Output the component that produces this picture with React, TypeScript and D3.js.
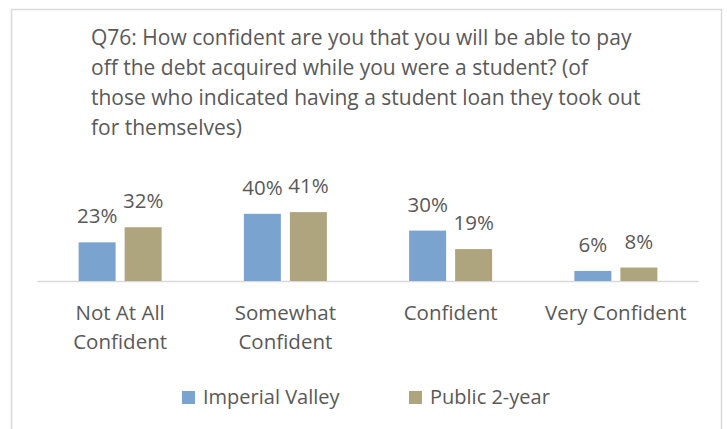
import React from "react";
import * as d3 from "d3";

const categories = [["Not At All", "Confident"], ["Somewhat", "Confident"], ["Confident"], ["Very Confident"]];
const imperialValley = [23, 40, 30, 6];
const public2Year = [32, 41, 19, 8];
const seriesNames = ["Imperial Valley", "Public 2-year"];
const titleLines = [
  "Q76: How confident are you that you will be able to pay",
  "off the debt acquired while you were a student? (of",
  "those who indicated having a student loan they took out",
  "for themselves)",
];

const W = 727, H = 429;
const colors = ["#7ba3cf", "#aea47d"];
const textColor = "#595959";
const font = "'Open Sans', sans-serif";

export default function App() {
  const baseline = 281;
  const x = d3.scaleBand<number>().domain(d3.range(categories.length)).range([37.5, 698.5]).paddingInner(0).paddingOuter(0);
  const y = d3.scaleLinear().domain([0, 100]).range([baseline, baseline - 168]);
  const barW = 37, gap = 9;
  const series = [imperialValley, public2Year];
  return (
    <svg width={W} height={H} style={{ position: "fixed", left: 0, top: 0, background: "#fff" }} fontFamily={font}>
      <rect x={11.5} y={9.5} width={710} height={430} fill="#fff" stroke="#d9d9d9" strokeWidth={1.5} />
      {titleLines.map((t, i) => (
        <text key={i} x={91} y={45 + i * 30} fontSize={21} fill={textColor}>{t}</text>
      ))}
      <line x1={37.5} x2={698.5} y1={baseline + 0.5} y2={baseline + 0.5} stroke="#d9d9d9" strokeWidth={1.5} />
      {categories.map((c, ci) => {
        const cx = x(ci)! + x.bandwidth() / 2;
        return (
          <g key={ci}>
            {series.map((s, si) => {
              const bx = cx - gap / 2 - barW + si * (barW + gap);
              const top = y(s[ci]);
              return (
                <g key={si}>
                  <rect x={bx} y={top} width={barW} height={baseline - top} fill={colors[si]} />
                  <text x={bx + barW / 2} y={top - 19} textAnchor="middle" fontSize={20.5} fill={textColor}>{s[ci]}%</text>
                </g>
              );
            })}
            {c.map((l, li) => (
              <text key={li} x={cx} y={320 + li * 29} textAnchor="middle" fontSize={20.5} fill={textColor}>{l}</text>
            ))}
          </g>
        );
      })}
      {seriesNames.map((n, i) => {
        const lx = [182, 409][i];
        return (
          <g key={i}>
            <rect x={lx} y={391} width={13} height={13} fill={colors[i]} />
            <text x={lx + 21} y={404} fontSize={20} fill={textColor}>{n}</text>
          </g>
        );
      })}
    </svg>
  );
}
